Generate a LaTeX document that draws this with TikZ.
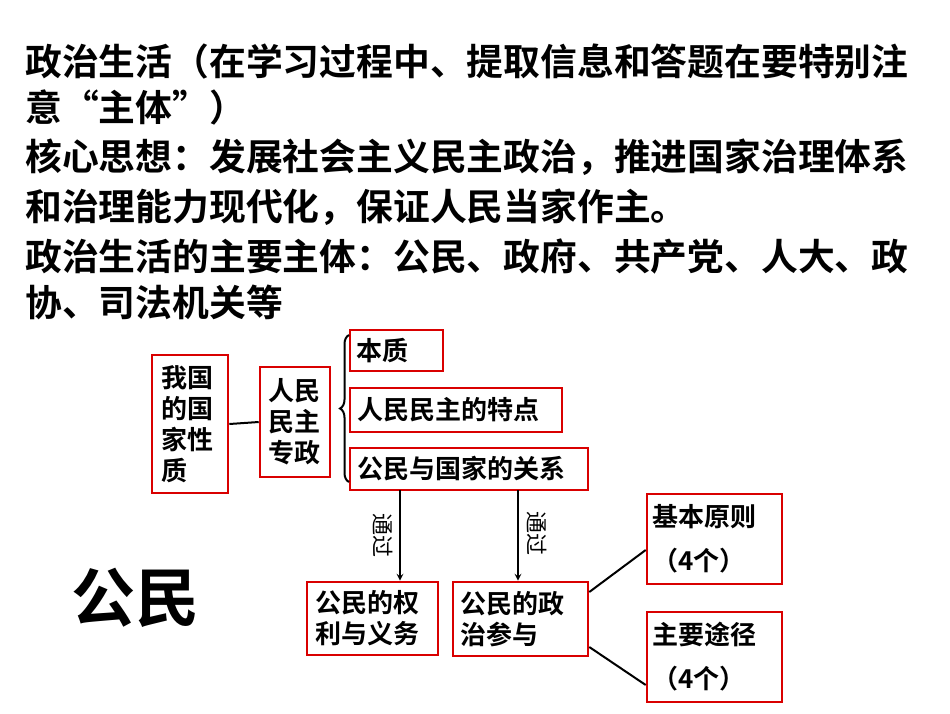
\documentclass[tikz,border=0pt]{standalone}
\usepackage{fontspec}
\setmainfont{Noto Sans CJK SC Bold}
\newfontfamily\thin{Noto Sans CJK SC}
\usetikzlibrary{decorations.pathreplacing}
\begin{document}
\begin{tikzpicture}[x=1pt,y=-1pt,
  bx/.style={draw=red!85!black,line width=2.6pt,align=left,inner sep=0pt,font=\fontsize{26}{31}\selectfont},
  ln/.style={line width=2pt},
  ttl/.style={anchor=west,inner sep=0pt,font=\fontsize{36.8}{40}\selectfont}]
\useasboundingbox (0,0) rectangle (950,713);
\node[ttl] (t1) at (25,62) {政治生活（在学习过程中、提取信息和答题在要特别注};
\node[ttl] (t2) at (25,107) {意“主体”）};
\node[ttl] (t3) at (25,157) {核心思想：发展社会主义民主政治，推进国家治理体系};
\node[ttl] (t4) at (25,207) {和治理能力现代化，保证人民当家作主。};
\node[ttl] (t5) at (25,257) {政治生活的主要主体：公民、政府、共产党、人大、政};
\node[ttl] (t6) at (25,302) {协、司法机关等};
\node[bx,minimum width=76,minimum height=138,text width=58] (a) at (190,424) {我国\\的国\\家性\\质};
\node[bx,minimum width=70,minimum height=110,text width=54] (b) at (295,422) {人民\\民主\\专政};
\node[bx,minimum width=93,minimum height=41,text width=80] (c1) at (396.5,350.5) {本质};
\node[bx,minimum width=212,minimum height=44,text width=198] (c2) at (456,410) {人民民主的特点};
\node[bx,minimum width=238,minimum height=42,text width=224] (c3) at (469,469) {公民与国家的关系};
\node[bx,minimum width=131,minimum height=73,text width=115] (d1) at (372.5,618.5) {公民的权\\利与义务};
\node[bx,minimum width=135,minimum height=74,text width=121] (d2) at (520.5,619) {公民的政\\治参与};
\node[bx,minimum width=135,minimum height=90,text width=125,font=\fontsize{26}{44}\selectfont] (e1) at (714.5,539) {基本原则\\（4个）};
\node[bx,minimum width=135,minimum height=90,text width=125,font=\fontsize{26}{44}\selectfont] (e2) at (714.5,657) {主要途径\\（4个）};
\node[inner sep=0pt,font=\fontsize{64}{70}\selectfont] (g) at (135,598) {公民};
\draw[ln] (a.east) -- (b.west);
\draw[ln,decorate,decoration={brace,amplitude=9pt,mirror}] (349,335) -- (349,482);
\coordinate (c3a) at (400,490);
\coordinate (c3b) at (518,490);
\draw[ln,-stealth] (c3a) -- (c3a |- d1.north);
\draw[ln,-stealth] (c3b) -- (c3b |- d2.north);
\node[rotate=-90,inner sep=0pt,font=\thin\fontsize{22}{22}\selectfont] (l1) at (383,535) {通过};
\node[rotate=-90,inner sep=0pt,font=\thin\fontsize{22}{22}\selectfont] (l2) at (537,533) {通过};
\draw[ln] ([yshift=27pt]d2.east) -- ([yshift=-11pt]e1.west);
\draw[ln] ([yshift=-28pt]d2.east) -- ([yshift=-28pt]e2.west);
\end{tikzpicture}
\end{document}
